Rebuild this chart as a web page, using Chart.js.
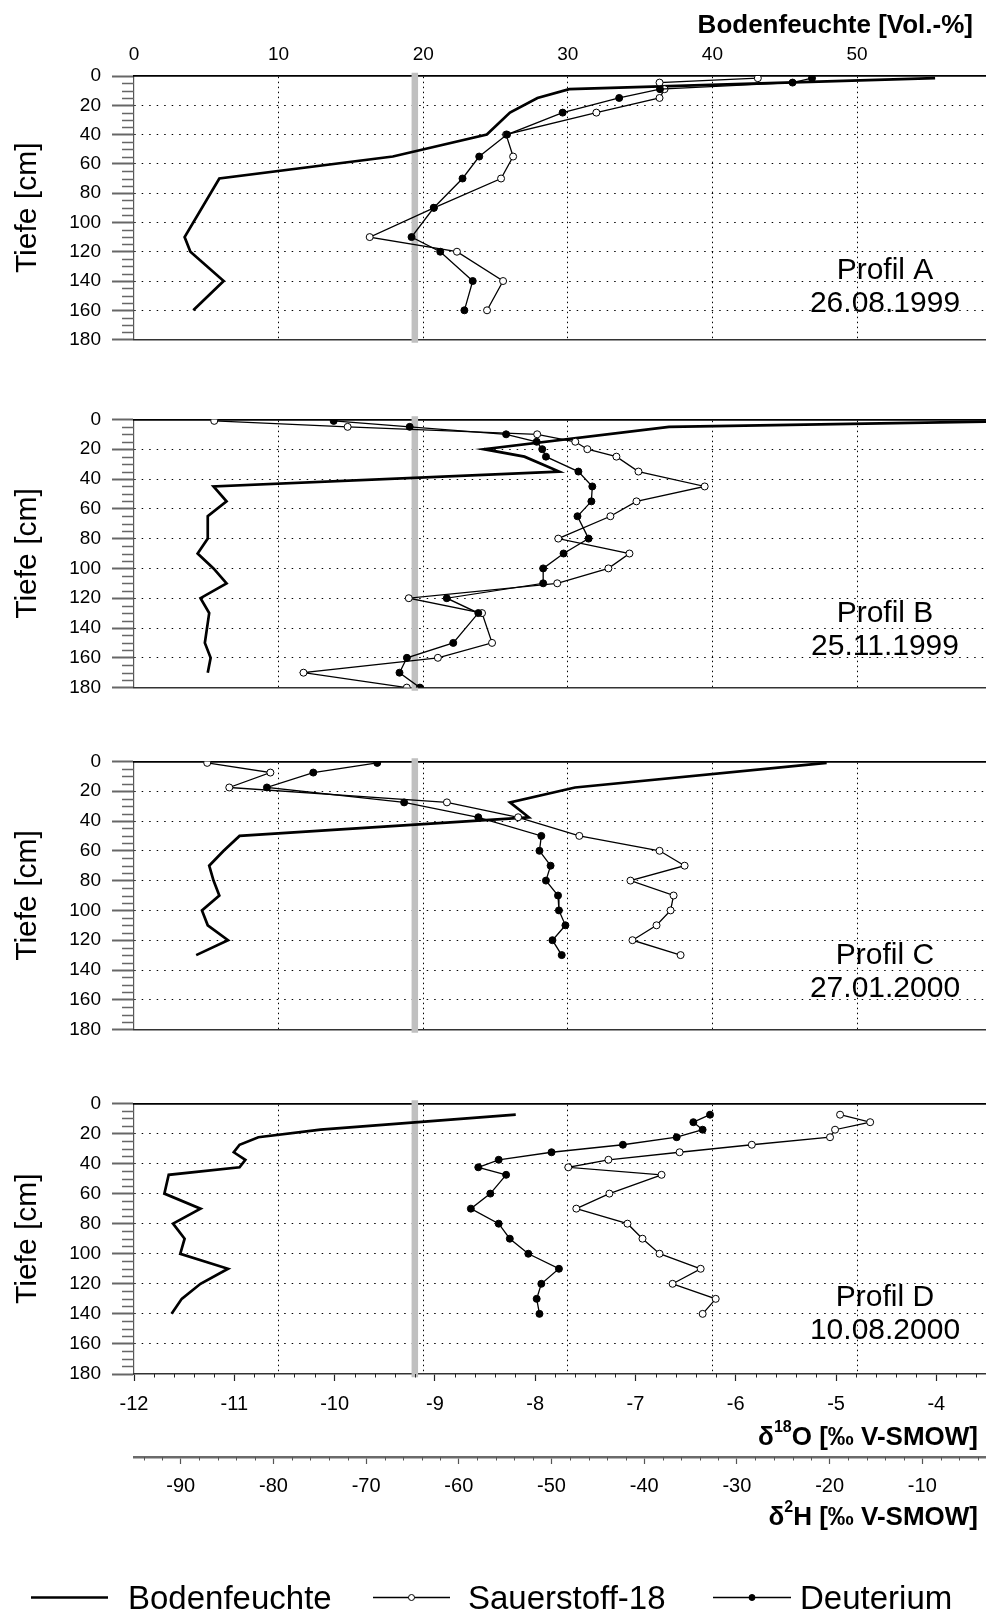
<!DOCTYPE html>
<html lang="de">
<head>
<meta charset="utf-8">
<title>Bodenfeuchte und Isotopenprofile</title>
<script src="https://cdn.jsdelivr.net/npm/chart.js@4.4.1/dist/chart.umd.min.js"></script>
<style>
  html, body { margin: 0; padding: 0; background: #fff; }
  body { width: 986px; height: 1613px; position: relative; overflow: hidden; }
  canvas { position: absolute; left: 0; }
</style>
</head>
<body>
<canvas id="profilA" width="986" height="362" style="top:0px"></canvas>
<canvas id="profilB" width="986" height="313" style="top:397px"></canvas>
<canvas id="profilC" width="986" height="313" style="top:739px"></canvas>
<canvas id="profilD" width="986" height="532" style="top:1081px"></canvas>
<script>
const SCHRIFT = "'Liberation Sans', Arial, Helvetica, sans-serif";

const profilNamen = ['Profil A', 'Profil B', 'Profil C', 'Profil D'];
const profilDaten = ['26.08.1999', '25.11.1999', '27.01.2000', '10.08.2000'];

// Achsenbeschriftungen
const tiefeTicks = [0, 20, 40, 60, 80, 100, 120, 140, 160, 180];
const bfTicks = [0, 10, 20, 30, 40, 50];
const o18Ticks = [-12, -11, -10, -9, -8, -7, -6, -5, -4];
const h2Ticks = [-90, -80, -70, -60, -50, -40, -30, -20, -10];

// mittlerer d18O-Wert (graue Linie)
const referenzO18 = -9.2;

// Profil A
const tiefeBfA = [1.5, 9, 15, 25, 40, 55, 70, 110, 120, 140, 160];
const bodenfeuchteA = [55.4, 30.1, 27.9, 26.0, 24.4, 17.9, 5.9, 3.5, 3.9, 6.2, 4.1];
const tiefeIsoA = [1.5, 4.5, 9, 15, 25, 40, 55, 70, 90, 110, 120, 140, 160];
const sauerstoffA = [-5.78, -6.76, -6.71, -6.76, -7.39, -8.29, -8.22, -8.34, -9.01, -9.65, -8.78, -8.32, -8.48];
const deuteriumA = [-21.9, -24.0, -38.3, -42.7, -48.8, -54.8, -57.8, -59.6, -62.7, -65.1, -62.0, -58.5, -59.4];

// Profil B
const tiefeBfB = [1, 5, 20, 25, 35, 45, 55, 65, 80, 90, 100, 110, 120, 130, 150, 160, 170];
const bodenfeuchteB = [62, 37.0, 24.2, 27.0, 29.4, 5.5, 6.4, 5.1, 5.1, 4.4, 5.5, 6.4, 4.6, 5.2, 4.9, 5.3, 5.1];
const tiefeIsoB = [1, 5, 10, 15, 20, 25, 35, 45, 55, 65, 80, 90, 100, 110, 120, 130, 150, 160, 170, 180];
const sauerstoffB = [-11.20, -9.87, -7.98, -7.60, -7.48, -7.19, -6.97, -6.31, -6.99, -7.25, -7.77, -7.06, -7.27, -7.78, -9.26, -8.53, -8.43, -8.97, -10.31, -9.28];
const deuteriumB = [-73.5, -65.3, -54.9, -51.6, -51.0, -50.6, -47.1, -45.6, -45.7, -47.2, -46.0, -48.7, -50.9, -50.9, -61.3, -57.9, -60.6, -65.6, -66.4, -64.2];

// Profil C
const tiefeBfC = [1, 17.5, 27.5, 37.5, 50, 60, 70, 80, 90, 100, 110, 120, 130];
const bodenfeuchteC = [47.9, 30.5, 26.0, 27.3, 7.3, 6.2, 5.2, 5.5, 5.9, 4.7, 5.1, 6.5, 4.3];
const tiefeIsoC = [1, 7.5, 17.5, 27.5, 37.5, 50, 60, 70, 80, 90, 100, 110, 120, 130];
const sauerstoffC = [-11.27, -10.64, -11.05, -8.88, -8.17, -7.56, -6.76, -6.51, -7.05, -6.62, -6.65, -6.79, -7.03, -6.55];
const deuteriumC = [-68.8, -75.7, -80.7, -65.9, -57.9, -51.1, -51.3, -50.1, -50.6, -49.3, -49.2, -48.5, -49.9, -48.9];

// Profil D
const tiefeBfD = [7.5, 17.5, 22.5, 27.5, 32.5, 37.5, 42.5, 47.5, 60, 70, 80, 90, 100, 110, 120, 130, 140];
const bodenfeuchteD = [26.4, 12.9, 8.6, 7.3, 6.9, 7.7, 7.3, 2.4, 2.1, 4.6, 2.7, 3.5, 3.2, 6.5, 4.6, 3.3, 2.6];
const tiefeIsoD = [7.5, 12.5, 17.5, 22.5, 27.5, 32.5, 37.5, 42.5, 47.5, 60, 70, 80, 90, 100, 110, 120, 130, 140];
const sauerstoffD = [-4.96, -4.66, -5.01, -5.06, -5.84, -6.56, -7.27, -7.67, -6.74, -7.26, -7.59, -7.08, -6.93, -6.76, -6.35, -6.63, -6.20, -6.33];
const deuteriumD = [-32.9, -34.7, -33.7, -36.5, -42.3, -50.0, -55.7, -57.9, -54.9, -56.6, -58.7, -55.7, -54.5, -52.5, -49.2, -51.1, -51.6, -51.3];

// Achsenbereiche (alle drei x-Achsen teilen sich die Breite)
const bfMax = 58.92;
const o18Min = -12, o18Max = -3.505;
const h2Min = -95.04, h2Max = -3.13;

const unsichtbar = 'rgba(0,0,0,0)';

function punkte(tiefen, werte) {
    return tiefen.map((t, i) => ({ x: werte[i], y: t }));
}

function alsTicks(werte) {
    return werte.map(v => ({ value: v }));
}

// kleine Zwischenstriche an den Achsen
const nebenStriche = {
    id: 'nebenStriche',
    afterDraw(chart, args, opts) {
        const ctx = chart.ctx;
        (opts.achsen || []).forEach(a => {
            const s = chart.scales[a.id];
            if (!s) return;
            ctx.save();
            ctx.strokeStyle = a.farbe;
            ctx.lineWidth = a.breite;
            ctx.beginPath();
            for (let v = a.start; v <= s.max + 1e-9; v += a.schritt) {
                const q = v / a.haupt;
                if (Math.abs(q - Math.round(q)) < 1e-6) continue;
                const p = Math.round(s.getPixelForValue(v)) + 0.5;
                if (s.isHorizontal()) {
                    ctx.moveTo(p, s.top);
                    ctx.lineTo(p, s.top + a.laenge);
                } else {
                    ctx.moveTo(s.right - a.laenge, p);
                    ctx.lineTo(s.right, p);
                }
            }
            ctx.stroke();
            ctx.restore();
        });
    }
};

// "Profil X" und Datum rechts im Diagramm
const profilBeschriftung = {
    id: 'profilBeschriftung',
    afterDatasetsDraw(chart, args, opts) {
        const { ctx, chartArea } = chart;
        ctx.save();
        ctx.font = `30px ${SCHRIFT}`;
        ctx.fillStyle = '#000';
        ctx.textAlign = 'center';
        ctx.textBaseline = 'alphabetic';
        const x = chartArea.right - 101;
        ctx.fillText(opts.name, x, chartArea.top + 203);
        ctx.fillText(opts.datum, x, chartArea.top + 236);
        ctx.restore();
    }
};

// Achsentitel mit hochgestellten Ziffern (d18O, d2H)
const achsenTitel = {
    id: 'achsenTitel',
    afterDraw(chart, args, opts) {
        const ctx = chart.ctx;
        (opts.titel || []).forEach(t => {
            const s = chart.scales[t.achse];
            const teile = t.teile.map(p => ({
                text: p.text,
                font: `bold ${p.hoch ? 16 : 26}px ${SCHRIFT}`,
                hoch: p.hoch ? 12.5 : 0
            }));
            ctx.save();
            let breite = 0;
            teile.forEach(p => { ctx.font = p.font; p.w = ctx.measureText(p.text).width; breite += p.w; });
            let x = chart.chartArea.right - t.rechts - breite;
            const y = s.top + t.grundlinie;
            ctx.fillStyle = '#000';
            ctx.textAlign = 'left';
            ctx.textBaseline = 'alphabetic';
            teile.forEach(p => {
                ctx.font = p.font;
                ctx.fillText(p.text, x, y - p.hoch);
                x += p.w;
            });
            ctx.restore();
        });
    }
};

// Legende unter dem letzten Profil
const legende = {
    id: 'legende',
    afterDraw(chart, args, opts) {
        if (!opts.eintraege) return;
        const ctx = chart.ctx;
        const y = opts.y;
        opts.eintraege.forEach((e, i) => {
            const ds = chart.data.datasets[i];
            ctx.save();
            ctx.strokeStyle = ds.borderColor;
            ctx.lineWidth = ds.borderWidth;
            ctx.beginPath();
            ctx.moveTo(e.von, y);
            ctx.lineTo(e.bis, y);
            ctx.stroke();
            if (ds.pointRadius > 0) {
                ctx.beginPath();
                ctx.arc((e.von + e.bis) / 2, y, 3, 0, Math.PI * 2);
                ctx.fillStyle = ds.pointBackgroundColor;
                ctx.fill();
                ctx.lineWidth = 1;
                ctx.strokeStyle = ds.pointBorderColor;
                ctx.stroke();
            }
            ctx.font = `33px ${SCHRIFT}`;
            ctx.fillStyle = '#000';
            ctx.textAlign = 'left';
            ctx.textBaseline = 'alphabetic';
            ctx.fillText(ds.label, e.text, y + 11.5);
            ctx.restore();
        });
    }
};

function profilDiagramm(canvasId, nr, tiefeBf, bf, tiefeIso, o18, h2) {
    const istA = nr === 0;
    const istD = nr === 3;

    const achsenStriche = [{ id: 'y', start: 0, schritt: 5, haupt: 20, laenge: 12, farbe: '#666', breite: 1.5 }];
    if (istD) {
        achsenStriche.push({ id: 'xO', start: -12, schritt: 0.2, haupt: 1, laenge: 3.5, farbe: '#222', breite: 1 });
        achsenStriche.push({ id: 'xH', start: -94, schritt: 2, haupt: 10, laenge: 3.5, farbe: '#555', breite: 1 });
    }

    return new Chart(document.getElementById(canvasId), {
        type: 'scatter',
        data: {
            datasets: [
                {
                    label: 'Bodenfeuchte',
                    data: punkte(tiefeBf, bf),
                    xAxisID: 'bf', yAxisID: 'y',
                    showLine: true,
                    borderColor: '#000', borderWidth: 2.7,
                    borderJoinStyle: 'miter',
                    pointRadius: 0,
                    order: 3
                },
                {
                    label: 'Sauerstoff-18',
                    data: punkte(tiefeIso, o18),
                    xAxisID: 'xO', yAxisID: 'y',
                    showLine: true,
                    borderColor: '#000', borderWidth: 1.3,
                    pointRadius: 3.5,
                    pointBackgroundColor: '#fff',
                    pointBorderColor: '#000',
                    pointBorderWidth: 1,
                    order: 2
                },
                {
                    label: 'Deuterium',
                    data: punkte(tiefeIso, h2),
                    xAxisID: 'xH', yAxisID: 'y',
                    showLine: true,
                    borderColor: '#000', borderWidth: 1.3,
                    pointRadius: 3.5,
                    pointBackgroundColor: '#000',
                    pointBorderColor: '#000',
                    pointBorderWidth: 1,
                    order: 1
                },
                {
                    label: 'Referenz',
                    data: [{ x: referenzO18, y: 0 }, { x: referenzO18, y: 180 }],
                    xAxisID: 'xO', yAxisID: 'y',
                    showLine: true,
                    borderColor: '#c0c0c0', borderWidth: 6.5,
                    borderCapStyle: 'square',
                    pointRadius: 0,
                    clip: false,
                    order: 10
                }
            ]
        },
        options: {
            responsive: false,
            animation: false,
            devicePixelRatio: 1,
            events: [],
            layout: {
                autoPadding: false,
                padding: istA ? { top: 0, bottom: 13, left: 0, right: 0 }
                    : istD ? { top: 20, bottom: 81, left: 0, right: 0 }
                    : { top: 20, bottom: 20, left: 0, right: 0 }
            },
            scales: {
                y: {
                    type: 'linear', axis: 'y', position: 'left',
                    reverse: true, min: 0, max: 180,
                    afterFit: s => { s.width = 134; },
                    afterBuildTicks: s => { s.ticks = alsTicks(tiefeTicks); },
                    ticks: {
                        font: { family: SCHRIFT, size: 19 }, color: '#000', padding: 11,
                        callback: v => String(v)
                    },
                    grid: {
                        color: c => (c.tick && (c.tick.value === 0 || c.tick.value === 180)) ? unsichtbar : '#000',
                        lineWidth: 1,
                        tickLength: 22, tickColor: '#666', tickWidth: 2
                    },
                    border: { display: true, color: '#555', width: 1.2, dash: [1.5, 6] },
                    title: {
                        display: true, text: 'Tiefe [cm]', color: '#000',
                        font: { family: SCHRIFT, size: 30 },
                        padding: { top: 10, bottom: 0 }
                    }
                },
                bf: {
                    type: 'linear', axis: 'x', position: 'top',
                    min: 0, max: bfMax,
                    afterFit: s => { s.height = istA ? 76 : 0; },
                    afterBuildTicks: s => { s.ticks = alsTicks(bfTicks); },
                    ticks: {
                        display: istA,
                        font: { family: SCHRIFT, size: 19 }, color: '#000', padding: 9.6,
                        callback: v => String(v)
                    },
                    grid: {
                        color: c => (c.tick && c.tick.value === 0) ? unsichtbar : '#000',
                        lineWidth: 1, drawTicks: false
                    },
                    border: { display: true, color: '#000', width: 1.7, dash: [1.5, 3.5] }
                },
                xO: {
                    type: 'linear', axis: 'x', position: 'bottom', weight: 0,
                    min: o18Min, max: o18Max,
                    afterFit: s => { s.height = istD ? 83 : 0; },
                    afterBuildTicks: s => { s.ticks = alsTicks(o18Ticks); },
                    ticks: {
                        display: istD,
                        font: { family: SCHRIFT, size: 20 }, color: '#000', padding: 11,
                        callback: v => String(v)
                    },
                    grid: {
                        drawOnChartArea: false, drawTicks: istD,
                        tickLength: 7, tickColor: '#222', tickWidth: 1.2
                    },
                    border: { display: true, color: '#333', width: 1.6 }
                },
                xH: {
                    type: 'linear', axis: 'x', position: 'bottom', weight: 1,
                    display: istD,
                    min: h2Min, max: h2Max,
                    afterFit: s => { s.height = istD ? 75 : 0; },
                    afterBuildTicks: s => { s.ticks = alsTicks(h2Ticks); },
                    ticks: {
                        font: { family: SCHRIFT, size: 20 }, color: '#000', padding: 10.7,
                        callback: v => String(v)
                    },
                    grid: {
                        drawOnChartArea: false,
                        tickLength: 7, tickColor: '#555', tickWidth: 1.2
                    },
                    border: { display: true, color: '#6a6a6a', width: 2.5 }
                }
            },
            plugins: {
                legend: { display: false },
                tooltip: { enabled: false },
                nebenStriche: { achsen: achsenStriche },
                profilBeschriftung: { name: profilNamen[nr], datum: profilDaten[nr] },
                achsenTitel: {
                    titel: istA ? [
                        { achse: 'bf', rechts: 13, grundlinie: 32.5, teile: [{ text: 'Bodenfeuchte [Vol.-%]' }] }
                    ] : istD ? [
                        { achse: 'xO', rechts: 8, grundlinie: 70.5, teile: [{ text: 'δ' }, { text: '18', hoch: true }, { text: 'O [‰ V-SMOW]' }] },
                        { achse: 'xH', rechts: 8, grundlinie: 67.5, teile: [{ text: 'δ' }, { text: '2', hoch: true }, { text: 'H [‰ V-SMOW]' }] }
                    ] : []
                },
                legende: istD ? {
                    y: 516.5,
                    eintraege: [
                        { von: 31, bis: 108, text: 128 },
                        { von: 373, bis: 450, text: 468 },
                        { von: 713, bis: 791, text: 800 }
                    ]
                } : {}
            }
        },
        plugins: [nebenStriche, profilBeschriftung, achsenTitel, legende]
    });
}

profilDiagramm('profilA', 0, tiefeBfA, bodenfeuchteA, tiefeIsoA, sauerstoffA, deuteriumA);
profilDiagramm('profilB', 1, tiefeBfB, bodenfeuchteB, tiefeIsoB, sauerstoffB, deuteriumB);
profilDiagramm('profilC', 2, tiefeBfC, bodenfeuchteC, tiefeIsoC, sauerstoffC, deuteriumC);
profilDiagramm('profilD', 3, tiefeBfD, bodenfeuchteD, tiefeIsoD, sauerstoffD, deuteriumD);
</script>
</body>
</html>
